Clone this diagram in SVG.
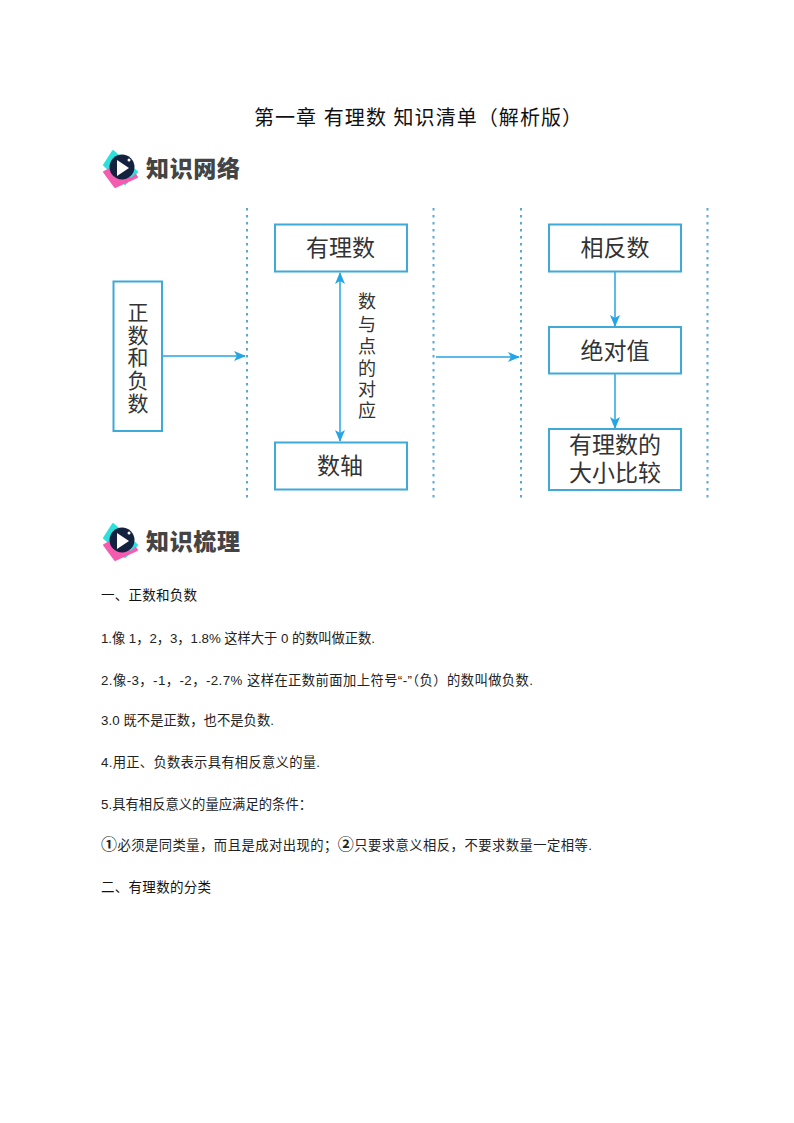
<svg xmlns="http://www.w3.org/2000/svg" width="794" height="1123" viewBox="0 0 794 1123">
<style>
text{font-family:"Liberation Sans","Noto Sans CJK SC",sans-serif;fill:#111}
.b{font-size:13.3px;fill:#222}
.h{font-size:13.5px}
.n{font-size:23px;font-family:"Noto Sans CJK SC",sans-serif;fill:#333;text-anchor:middle}
.v{font-size:21px}
.e{font-size:18px}
.box{fill:#fff;stroke:#3fa9d8;stroke-width:2}
.dot{stroke:#5aa9cf;stroke-width:2;stroke-dasharray:2.500 4.500;fill:none}
.c{stroke:#25a5e4;stroke-width:1.500;fill:none}
.logo{font-size:23px;font-weight:900;fill:#444;font-family:"Noto Sans CJK SC",sans-serif}
</style>
<defs>
<marker id="a" viewBox="0 0 12 10" refX="11" refY="5" markerWidth="12" markerHeight="10" markerUnits="userSpaceOnUse" orient="auto-start-reverse"><path d="M0 0L12 5L0 10L3 5Z" fill="#25a5e4"/></marker>
<g id="logo"><path d="M113 151L137 172L125 184L104 165Z" fill="#2ee0dc" stroke="#2ee0dc" stroke-width="2" stroke-linejoin="round"/><path d="M104 172L115 187L137 177L125 160Z" fill="#f45cb0" stroke="#f45cb0" stroke-width="2" stroke-linejoin="round"/><path d="M113 151L137 172L131 178L108 160Z" fill="#2ee0dc"/><circle cx="122" cy="167" r="12.500" fill="#14213f"/><path d="M117 160L129 168L117 176Z" fill="#fff"/><circle cx="129" cy="160" r="1.500" fill="#fff"/></g>
</defs>
<rect width="794" height="1123" fill="#fff"/>
<text x="254" y="125" font-size="20" textLength="328" lengthAdjust="spacing">第一章 有理数 知识清单（解析版）</text>
<use href="#logo"/>
<text class="logo" x="146" y="177" textLength="94">知识网络</text>
<use href="#logo" y="373"/>
<text class="logo" x="146" y="550" textLength="94">知识梳理</text>
<g id="dividers">
<path class="dot" d="M247 208V500"/><path class="dot" d="M433.500 208V500"/><path class="dot" d="M521 208V500"/><path class="dot" d="M707.500 208V500"/>
</g>
<g id="connectors">
<path class="c" d="M162 356H245" marker-end="url(#a)"/>
<path class="c" d="M340 273V441" marker-start="url(#a)" marker-end="url(#a)"/>
<path class="c" d="M436 357H519" marker-end="url(#a)"/>
<path class="c" d="M615 272V326" marker-end="url(#a)"/>
<path class="c" d="M615 374V428" marker-end="url(#a)"/>
</g>
<g id="n1"><rect class="box" x="113.500" y="281.500" width="48.500" height="149.500"/><text class="n v"><tspan x="138" y="320">正</tspan><tspan x="138" y="343">数</tspan><tspan x="138" y="365">和</tspan><tspan x="138" y="388">负</tspan><tspan x="138" y="411">数</tspan></text></g>
<g id="n2"><rect class="box" x="275" y="224.500" width="132" height="47"/><text class="n" x="340.500" y="256">有理数</text></g>
<g id="n3"><rect class="box" x="275" y="442.500" width="132" height="47"/><text class="n" x="340" y="474">数轴</text></g>
<g id="n4"><rect class="box" x="549" y="224.500" width="132" height="47"/><text class="n" x="615" y="256">相反数</text></g>
<g id="n5"><rect class="box" x="549" y="327" width="132" height="46.500"/><text class="n" x="615" y="359">绝对值</text></g>
<g id="n6"><rect class="box" x="549" y="429" width="132" height="61"/><text class="n"><tspan x="615" y="453">有理数的</tspan><tspan x="615" y="481">大小比较</tspan></text></g>
<g id="edge-label">
<text class="n e"><tspan x="367" y="308">数</tspan><tspan x="367" y="331">与</tspan><tspan x="367" y="353">点</tspan><tspan x="367" y="375">的</tspan><tspan x="367" y="396">对</tspan><tspan x="367" y="417">应</tspan></text>
</g>
<text class="h" x="101" y="600" textLength="96">一、正数和负数</text>
<text class="b" x="101" y="643" textLength="274">1.像 1，2，3，1.8% 这样大于 0 的数叫做正数.</text>
<text class="b" x="101" y="685" textLength="432">2.像-3，-1，-2，-2.7% 这样在正数前面加上符号“-”（负）的数叫做负数.</text>
<text class="b" x="101" y="725" textLength="173">3.0 既不是正数，也不是负数.</text>
<text class="b" x="101" y="767" textLength="219">4.用正、负数表示具有相反意义的量.</text>
<text class="b" x="101" y="809" textLength="211">5.具有相反意义的量应满足的条件：</text>
<text class="b" x="101" y="850" textLength="491"><tspan font-size="16" font-weight="700">①</tspan>必须是同类量，而且是成对出现的；<tspan font-size="16" font-weight="700">②</tspan>只要求意义相反，不要求数量一定相等.</text>
<text class="h" x="101" y="892" textLength="110">二、有理数的分类</text>
</svg>
